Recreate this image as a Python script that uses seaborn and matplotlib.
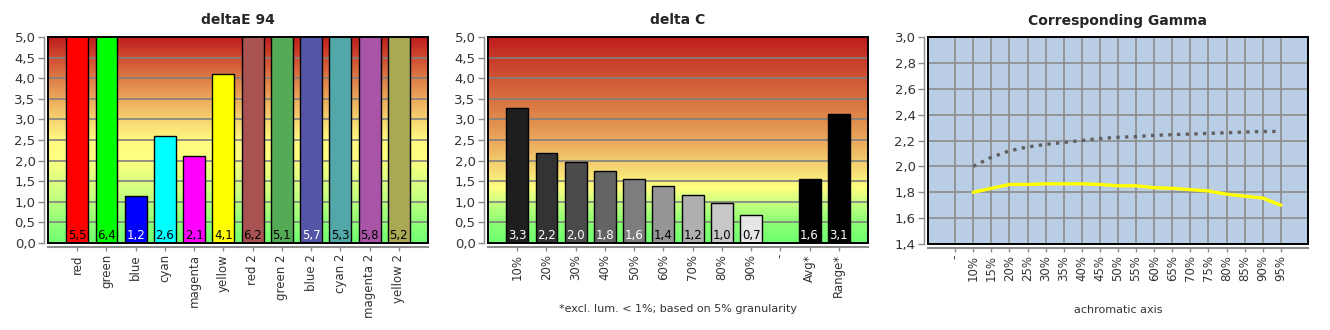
import numpy as np
import pandas as pd
import matplotlib
matplotlib.use('Agg')
import matplotlib.pyplot as plt
import seaborn as sns
from matplotlib.colors import LinearSegmentedColormap
from matplotlib.patches import Rectangle
from matplotlib.ticker import FuncFormatter

# ---------------- data ----------------
de_categories = ['red', 'green', 'blue', 'cyan', 'magenta', 'yellow',
                 'red 2', 'green 2', 'blue 2', 'cyan 2', 'magenta 2', 'yellow 2']
de_values = [5.5, 6.4, 1.15, 2.6, 2.1, 4.1, 6.2, 5.1, 5.7, 5.3, 5.8, 5.2]
de_labels = ['5,5', '6,4', '1,2', '2,6', '2,1', '4,1', '6,2', '5,1', '5,7', '5,3', '5,8', '5,2']
de_colors = ['#ff0000', '#00ff00', '#0000ff', '#00ffff', '#ff00ff', '#ffff00',
             '#a85252', '#55aa55', '#5555a8', '#52a8a8', '#a855a8', '#a8a855']
de_text_colors = ['black', 'black', 'white', 'black', 'black', 'black',
                  'black', 'black', 'white', 'black', 'black', 'black']

dc_categories = ['10%', '20%', '30%', '40%', '50%', '60%', '70%', '80%', '90%',
                 '-', 'Avg*', 'Range*']
dc_values = [3.27, 2.18, 1.96, 1.74, 1.55, 1.38, 1.16, 0.97, 0.68, np.nan, 1.55, 3.12]
dc_labels = ['3,3', '2,2', '2,0', '1,8', '1,6', '1,4', '1,2', '1,0', '0,7', '', '1,6', '3,1']
dc_colors = ['#1e1e1e', '#333333', '#4b4b4b', '#646464', '#7d7d7d', '#969696',
             '#afafaf', '#c8c8c8', '#e6e6e6', '#ffffff', '#000000', '#000000']
dc_text_colors = ['white', 'white', 'white', 'white', 'white', 'black',
                  'black', 'black', 'black', 'black', 'white', 'white']

gamma_categories = ['-', '10%', '15%', '20%', '25%', '30%', '35%', '40%', '45%', '50%',
                    '55%', '60%', '65%', '70%', '75%', '80%', '85%', '90%', '95%']
gamma_reference = [np.nan, 2.00, 2.07, 2.12, 2.15, 2.17, 2.185, 2.20, 2.215, 2.225,
                   2.23, 2.24, 2.245, 2.25, 2.255, 2.26, 2.265, 2.27, 2.27]
gamma_measured = [np.nan, 1.80, 1.83, 1.86, 1.86, 1.865, 1.865, 1.865, 1.86, 1.85,
                  1.85, 1.835, 1.83, 1.82, 1.81, 1.785, 1.77, 1.755, 1.70]

# ---------------- style ----------------
sns.set_theme(style='white')
plt.rcParams['font.family'] = ['DejaVu Sans']
TICK_C = '#333333'
AX_C = '#8c8c8c'
GRID_C = '#808080'

W, H = 1330, 330
fig = plt.figure(figsize=(W / 100, H / 100), dpi=100)


def px_axes(x0, y0, x1, y1):
    return fig.add_axes([x0 / W, 1 - y1 / H, (x1 - x0) / W, (y1 - y0) / H])


def comma_fmt(v, p):
    return f'{v:.1f}'.replace('.', ',')


def style_axes(ax):
    for s in ['top', 'right']:
        ax.spines[s].set_visible(False)
    ax.spines['left'].set_position(('outward', 3))
    ax.spines['bottom'].set_position(('outward', 3))
    ax.spines['left'].set_color(AX_C)
    ax.spines['bottom'].set_color(AX_C)
    ax.spines['left'].set_linewidth(1.0)
    ax.spines['bottom'].set_linewidth(1.5)
    ax.tick_params(axis='y', length=4, width=1, color=AX_C, labelsize=9.5,
                   labelcolor=TICK_C, pad=2, left=True)
    ax.tick_params(axis='x', length=3, width=1, color=AX_C, labelsize=8.5,
                   labelcolor=TICK_C, pad=2, bottom=True, labelrotation=90)
    ax.yaxis.set_major_formatter(FuncFormatter(comma_fmt))
    ax.add_patch(Rectangle((0, 0), 1, 1, transform=ax.transAxes, fill=False,
                           ec='black', lw=1.4, zorder=10, clip_on=False))
    ax.set_xlabel('')
    ax.set_ylabel('')


def gradient_bg(ax, stops):
    cmap = LinearSegmentedColormap.from_list('bg', stops, N=512)
    grad = np.repeat(np.linspace(0, 1, 512).reshape(-1, 1), 4, axis=1)
    ax.imshow(grad, cmap=cmap, aspect='auto', origin='lower',
              extent=[0, 1, 0, 1], transform=ax.transAxes, zorder=0,
              interpolation='nearest', interpolation_stage='rgba')


def bar_panel(ax, cats, vals, labels, colors, tcolors, title, stops):
    gradient_bg(ax, stops)
    df = pd.DataFrame({'cat': cats, 'val': vals})
    sns.barplot(data=df, x='cat', y='val', hue='cat', order=cats, hue_order=cats,
                palette=dict(zip(cats, colors)), legend=False, width=0.75,
                saturation=1, edgecolor='black', linewidth=1.0, ax=ax, zorder=2)
    ax.set_xlim(-1, len(cats))
    ax.set_ylim(0, 5)
    ax.set_yticks(np.arange(0, 5.01, 0.5))
    ax.set_xticks(range(len(cats)))
    ax.set_xticklabels(cats)
    ax.yaxis.grid(True, color=GRID_C, lw=1.2, zorder=1)
    ax.xaxis.grid(False)
    for i, (lab, tc) in enumerate(zip(labels, tcolors)):
        if lab:
            ax.text(i, 0.18, lab, ha='center', va='center', fontsize=8.5,
                    color=tc, zorder=5)
    ax.set_title(title, fontsize=10, fontweight='bold', pad=9)
    style_axes(ax)


# ---------------- panel 1: deltaE 94 ----------------
ax1 = px_axes(48, 37, 428, 243)
stops1 = [(0.0, '#70ff70'), (0.12, '#98ff78'), (0.24, '#ccff80'),
          (0.42, '#ffff80'), (0.5, '#fffa80'), (0.6, '#f6d470'),
          (0.7, '#ecaa5c'), (0.8, '#de7c48'), (0.9, '#d04c30'), (1.0, '#bf1c1c')]
bar_panel(ax1, de_categories, de_values, de_labels, de_colors, de_text_colors,
          'deltaE 94', stops1)

# ---------------- panel 2: delta C ----------------
ax2 = px_axes(488, 37, 868, 243)
stops2 = [(0.0, '#70ff70'), (0.1, '#8cff74'), (0.2, '#ccff80'),
          (0.27, '#ffff80'), (0.33, '#f8e478'), (0.45, '#eeb864'),
          (0.6, '#e08a4c'), (0.8, '#d05636'), (1.0, '#bf1c1c')]
bar_panel(ax2, dc_categories, dc_values, dc_labels, dc_colors, dc_text_colors,
          'delta C', stops2)
ax2.text(0.5, -0.32, '*excl. lum. < 1%; based on 5% granularity',
         transform=ax2.transAxes, ha='center', va='center', fontsize=8,
         color=TICK_C)

# ---------------- panel 3: Corresponding Gamma ----------------
ax3 = px_axes(928, 37, 1308, 244)
ax3.set_facecolor('#b9cde5')
pos = np.arange(len(gamma_categories))
gdf = pd.DataFrame({'pos': pos, 'ref': gamma_reference, 'meas': gamma_measured})
sns.lineplot(data=gdf, x='pos', y='ref', ax=ax3, color='#606060', lw=2.4,
             linestyle=(0, (1.0, 1.6)), zorder=3)
sns.lineplot(data=gdf, x='pos', y='meas', ax=ax3, color='#ffff00', lw=2.4, zorder=4)
ax3.set_xlim(-1.5, len(gamma_categories) + 0.5)
ax3.set_ylim(1.4, 3.0)
ax3.set_yticks(np.arange(1.4, 3.01, 0.2))
ax3.set_xticks(pos)
ax3.set_xticklabels(gamma_categories)
ax3.grid(True, color='#8c8c8c', lw=1.2, zorder=1)
ax3.set_axisbelow(True)
ax3.set_title('Corresponding Gamma', fontsize=10, fontweight='bold', pad=9)
style_axes(ax3)
ax3.text(0.5, -0.32, 'achromatic axis', transform=ax3.transAxes, ha='center',
         va='center', fontsize=8, color=TICK_C)

fig.savefig('out.png', dpi=100, facecolor='white')
